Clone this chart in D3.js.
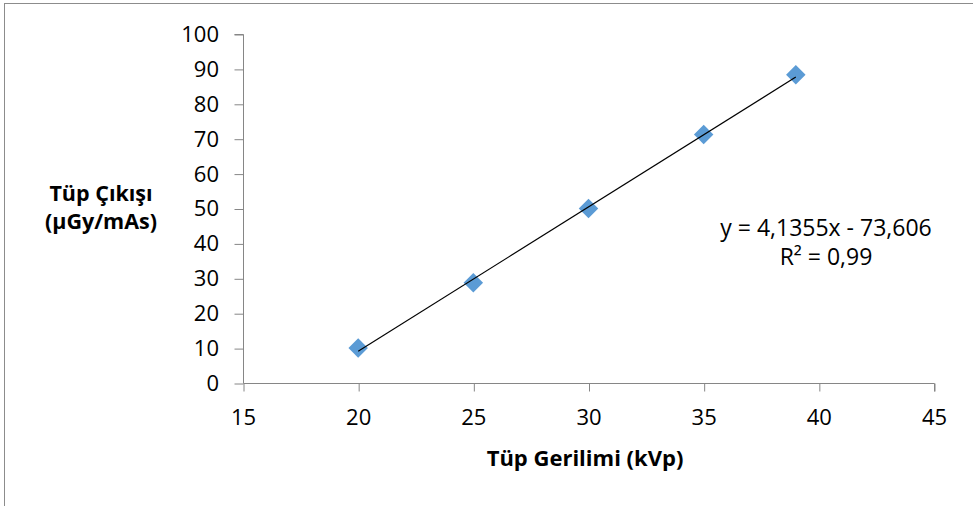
<!DOCTYPE html>
<html>
<head>
<meta charset="utf-8">
<script src="https://cdn.jsdelivr.net/npm/d3@7"></script>
<style>
  html, body { margin: 0; padding: 0; background: #fff; overflow: hidden; }
  svg { display: block; }
  text { font-family: "Open Sans", "Liberation Sans", sans-serif; fill: #000; }
</style>
</head>
<body>
<svg id="chart" width="973" height="506"></svg>
<script>
// ---- data ----
const kvp = [20, 25, 30, 35, 39];
const output = [10, 28.7, 50, 71.2, 88.3];
const xTicks = [15, 20, 25, 30, 35, 40, 45];
const yTicks = [0, 10, 20, 30, 40, 50, 60, 70, 80, 90, 100];
const trendSlope = 4.1355;
const trendIntercept = -73.606;
const equationLines = ["y = 4,1355x - 73,606", "R\u00B2 = 0,99"];
const xTitle = "Tüp Gerilimi (kVp)";
const yTitleLines = ["Tüp Çıkışı", "(µGy/mAs)"];

// ---- layout ----
const svg = d3.select("#chart");
const x = d3.scaleLinear().domain([15, 45]).range([243, 934]);
const y = d3.scaleLinear().domain([0, 100]).range([383, 34]);
const axisColor = "#868686";
const fontFam = "Open Sans, sans-serif";

// outer border (chart frame, cropped at right/bottom)
svg.append("rect")
  .attr("x", 4.5).attr("y", 3.5)
  .attr("width", 1000).attr("height", 600)
  .attr("fill", "none").attr("stroke", "#8c8c8c").attr("stroke-width", 1);

// y axis
const yAxis = svg.append("g")
  .attr("transform", "translate(243.5,0)")
  .call(d3.axisLeft(y).tickValues(yTicks).tickSize(9).tickPadding(15).tickFormat(d3.format("d")));
yAxis.selectAll("path, line").attr("stroke", axisColor);
yAxis.select(".domain").attr("d", `M-9,${y(100)+0.5}H0V${y(0)+0.5}`);
yAxis.selectAll(".tick line").attr("transform", "translate(0,0.5)");
yAxis.selectAll("text").attr("font-size", 22).attr("font-family", fontFam).attr("fill", "#000")
  .attr("x", -24.5).attr("dy", "0.34em");

// x axis
const xAxis = svg.append("g")
  .attr("transform", "translate(0,383.5)")
  .call(d3.axisBottom(x).tickValues(xTicks).tickSize(8).tickFormat(d3.format("d")));
xAxis.selectAll("path, line").attr("stroke", axisColor);
xAxis.select(".domain").attr("d", `M${x(15)+0.5},0H${x(45)+0.5}V8`);
xAxis.selectAll(".tick line").attr("transform", "translate(0.5,0)");
xAxis.selectAll("text").attr("font-size", 22).attr("font-family", fontFam).attr("fill", "#000")
  .attr("y", 41.5).attr("dy", 0);

// markers
const diamond = d3.symbol().type(d3.symbolSquare).size(190);
svg.append("g").selectAll("path")
  .data(kvp.map((k, i) => [k, output[i]]))
  .join("path")
  .attr("d", diamond)
  .attr("transform", d => `translate(${x(d[0])},${y(d[1])}) rotate(45)`)
  .attr("fill", "#5B9BD5");

// trend line (drawn over markers, as in the reference)
const x0 = d3.min(kvp), x1 = d3.max(kvp);
svg.append("line")
  .attr("x1", x(x0)).attr("y1", y(trendSlope * x0 + trendIntercept))
  .attr("x2", x(x1)).attr("y2", y(trendSlope * x1 + trendIntercept))
  .attr("stroke", "#000").attr("stroke-width", 1.2);

// equation
svg.append("text").attr("x", 826).attr("y", 236).attr("text-anchor", "middle")
  .attr("font-size", 23).text(equationLines[0]);
svg.append("text").attr("x", 826).attr("y", 265).attr("text-anchor", "middle")
  .attr("font-size", 23).text(equationLines[1]);

// axis titles
svg.append("text").attr("x", 585).attr("y", 466).attr("text-anchor", "middle")
  .attr("font-size", 22).attr("font-weight", "bold").text(xTitle);
yTitleLines.forEach((t, i) => {
  svg.append("text").attr("x", 101).attr("y", 201 + i * 28).attr("text-anchor", "middle")
    .attr("font-size", 21.5).attr("font-weight", "bold").text(t);
});
</script>
</body>
</html>
